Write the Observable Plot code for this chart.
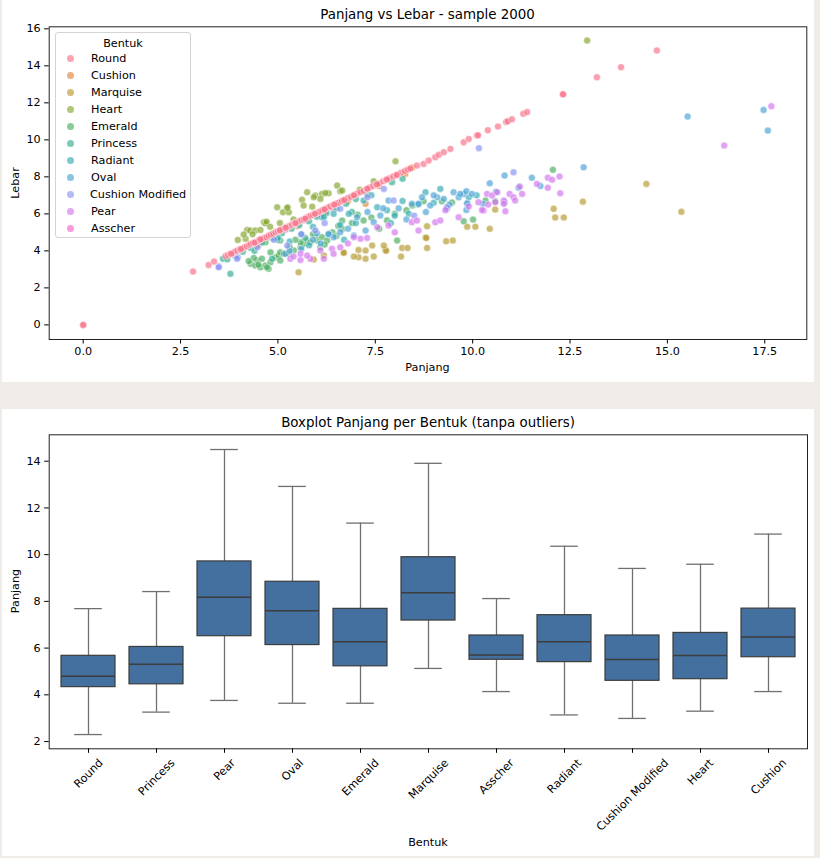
<!DOCTYPE html>
<html>
<head>
<meta charset="utf-8">
<script src="https://cdn.jsdelivr.net/npm/d3@7"></script>
<script src="https://cdn.jsdelivr.net/npm/@observablehq/plot@0.6"></script>
<style>
  html, body { margin: 0; padding: 0; background: #f0ece8; }
  #page { position: relative; width: 820px; height: 858px; background: #f0ece8; overflow: hidden; font-family: "DejaVu Sans", sans-serif; color: #000; }
  .panel { position: absolute; background: #fff; }
  .lbl { position: absolute; white-space: nowrap; line-height: 1; transform: translate(-50%, -50%); }
  .vlbl { position: absolute; white-space: nowrap; line-height: 1; transform: translate(-50%, -50%) rotate(-90deg); }
  svg.plot { position: absolute; left: 0; }
  #legend { position: absolute; left: 55px; top: 32px; width: 136px; height: 206px; border: 1px solid #d4d4d4; border-radius: 3px; background: rgba(255,255,255,0.85); box-sizing: border-box; }
  #legend .ttl { position: absolute; left: 0; width: 100%; text-align: center; top: 4px; font-size: 11.2px; }
  #legend .it { position: absolute; left: 0; font-size: 11.2px; line-height: 1; }
  #legend .dot { position: absolute; width: 7px; height: 7px; border-radius: 50%; }
</style>
</head>
<body>
<div id="page">
  <div class="panel" style="left:2px;top:0;width:812px;height:382px"></div>
  <div class="panel" style="left:2px;top:409px;width:812px;height:447px"></div>
</div>
<script>
// ---------- Scatter data (Panjang, Lebar) per Bentuk ----------
const shapeOrder = ["Round","Cushion","Marquise","Heart","Emerald","Princess","Radiant","Oval","Cushion Modified","Pear","Asscher"];
const palette = ["#f77189","#df873a","#b69931","#86a731","#4cae60","#35ae91","#37abb3","#4ca4d6","#8892f4","#d476ed","#f566c6"];

const roundPts = [
 [0,0],[0,0],[2.82,2.88],[3.22,3.24],[3.36,3.42],
 [3.66,3.72],[3.72,3.78],[3.78,3.85],[3.85,3.9],[3.9,3.97],[3.96,4.02],[4.02,4.08],[4.08,4.12],[4.14,4.2],[4.2,4.25],
 [4.26,4.32],[4.3,4.38],[4.36,4.42],[4.42,4.48],[4.48,4.52],[4.52,4.6],[4.58,4.64],[4.64,4.7],[4.7,4.74],[4.76,4.82],
 [4.82,4.88],[4.88,4.92],[4.94,5.0],[5.0,5.06],[5.06,5.1],[5.12,5.18],[5.18,5.24],[5.24,5.3],[5.3,5.34],[5.36,5.42],
 [5.42,5.48],[5.48,5.52],[5.54,5.6],[5.6,5.66],[5.66,5.7],[5.72,5.78],[5.78,5.84],[5.84,5.9],[5.9,5.95],[5.96,6.02],
 [6.02,6.08],[6.08,6.12],[6.14,6.2],[6.2,6.26],[6.28,6.34],[6.34,6.4],[6.42,6.48],[6.5,6.56],[6.56,6.6],[6.64,6.7],
 [6.72,6.78],[6.8,6.86],[6.88,6.92],[6.96,7.02],[7.04,7.1],[7.12,7.18],[7.2,7.24],[7.28,7.34],[7.36,7.42],[7.44,7.5],
 [7.52,7.58],[7.6,7.64],[7.7,7.76],[7.78,7.84],[7.86,7.92],[7.96,8.02],[8.06,8.12],[8.16,8.22],[8.26,8.32],[8.34,8.4],
 [4.05,4.1],[4.55,4.62],[5.05,5.12],[5.45,5.5],[5.95,6.0],[6.45,6.5],[6.95,7.0],[7.55,7.6],[8.05,8.1],[3.8,3.84],
 [4.4,4.44],[5.2,5.25],[5.7,5.74],[6.2,6.24],[6.7,6.74],[7.3,7.36],[7.8,7.86],
 [8.40,8.45],[8.57,8.61],[8.74,8.70],[8.87,8.88],[9.04,9.06],[9.13,9.20],[9.26,9.33],[9.43,9.51],
 [9.77,9.87],[9.90,10.05],[10.11,10.23],[10.14,10.25],[10.39,10.52],[10.65,10.72],[10.86,10.97],[10.9,11.0],[11.01,11.11],
 [11.30,11.41],[11.40,11.5],[12.32,12.46],[12.32,12.46],[13.19,13.38],[13.81,13.93],[14.73,14.83]
];
const cushionPts = [
 [7.25,6.54],[8.27,8.16],[5.5,5.35],[6.2,6.05],[6.8,6.7],[7.6,7.5],[4.5,4.3],[8.45,8.5]
];
const marquisePts = [
 [12.08,6.27],[12.12,5.80],[12.34,5.80],[10.58,6.23],[10.44,5.19],[9.86,5.31],[10.07,5.31],[9.49,4.56],[9.32,4.52],
 [8.83,4.16],[8.79,4.72],[8.83,5.33],[8.81,4.7],[7.76,4.05],[7.78,4.0],[7.72,4.29],[7.42,4.29],[7.46,3.69],[7.25,3.57],
 [7.07,3.65],[6.95,3.69],[7.25,4.02],[8.19,4.16],[8.33,4.16],[8.16,3.69],[6.69,3.92],[5.53,2.84],[5.92,3.53],
 [6.18,3.75],[6.69,3.89],[7.07,4.05],[14.46,7.62],[15.36,6.11],[12.83,6.66]
];
const heartPts = [
 [5.75,7.17],[5.96,6.99],[6.13,7.08],[6.30,7.11],[6.09,6.81],[5.62,6.76],[5.66,6.45],[5.88,6.39],[5.25,6.36],
 [5.13,6.09],[5.28,6.09],[4.64,5.55],[4.68,5.49],[4.71,5.58],[4.21,5.13],[4.29,5.10],[4.42,5.10],[4.55,5.13],
 [3.97,4.59],[4.17,4.65],[4.12,4.88],[6.52,7.53],[8.02,8.84],[4.98,6.36],[5.24,6.32],[6.6,7.22],[6.22,7.13],
 [5.92,6.9],[7.46,7.76],[6.65,7.26],[12.94,15.37],[4.35,4.9],[4.8,5.3],[5.4,5.7],[5.05,5.5],[7.1,7.3]
];
const emeraldPts = [
 [4.30,3.30],[4.42,3.21],[4.55,3.11],[4.68,3.21],[4.76,3.03],[4.47,3.48],[4.59,3.57],[4.38,3.62],[4.81,3.38],
 [4.94,3.65],[5.02,3.75],[5.06,3.92],[5.15,3.84],[4.81,3.92],[4.68,4.46],[5.06,4.56],[5.28,3.84],[5.41,4.02],
 [5.58,4.19],[5.66,4.38],[5.75,4.56],[5.83,4.46],[6.01,4.56],[5.96,4.83],[6.13,4.74],[6.26,4.56],[6.09,4.19],
 [5.58,4.46],[5.06,3.48],[4.72,3.11],[6.65,5.64],[6.65,5.18],[7.2,5.64],[8.06,4.56],[12.06,8.38],[9.77,5.6],
 [10.01,5.69],[10.33,6.72],[10.58,6.68],[8.74,6.68],[9.21,6.68],[9.47,6.62],[6.4,5.0],[6.9,5.5],[7.4,5.8],
 [7.6,5.2],[8.0,6.0],[8.3,6.2],[4.25,3.45],[4.5,3.25],[5.3,4.2],[5.9,4.9],[6.5,4.8],
 [5.45,4.6],[6.2,4.35],[6.55,5.35],[7.05,5.95],[7.8,5.65],[8.45,6.45]
];
const princessPts = [
 [3.78,2.76],[3.59,3.57],[3.7,3.55],[3.9,3.75],[4.1,3.95],[4.3,4.15],[4.6,4.45],[4.85,4.7],[5.1,4.95],[5.35,5.2],
 [5.55,5.4],[5.8,5.6],[6.0,5.85],[6.25,6.05],[6.5,6.3],[6.75,6.55],[7.0,6.8],[7.3,7.05],[7.93,7.71],[4.85,3.57],
 [4.4,4.0],[5.0,4.6],[8.2,7.9],[5.7,4.7],[6.9,6.1]
];
const radiantPts = [
 [6.43,6.0],[6.13,5.82],[6.30,4.92],[7.20,6.72],[6.82,6.0],[7.55,6.36],[8.36,6.0],[8.79,7.17],[9.17,7.35],[9.34,6.27],
 [6.18,5.82],[5.6,4.9],[5.9,5.3],[6.6,5.4],[7.0,5.5],[7.8,6.2],[8.0,5.9],[8.6,6.5],[9.0,6.6],[9.9,6.9],[10.1,7.0],
 [5.3,4.5],[5.0,4.7],[7.4,7.0],[5.8,4.3],[6.7,4.6],[7.9,5.5],[8.2,6.7]
];
const ovalPts = [
 [8.44,6.54],[8.61,6.54],[8.91,6.45],[9.09,6.90],[9.26,6.81],[9.51,7.17],[9.64,6.9],[9.77,7.08],[9.86,6.54],[7.84,6.72],
 [7.63,5.91],[7.46,5.55],[7.25,5.10],[7.03,5.82],[6.6,5.01],[6.43,4.74],[6.95,4.83],[9.68,7.08],[9.84,7.22],[9.98,7.08],
 [10.44,7.65],[10.82,8.07],[11.52,7.95],[11.74,7.51],[12.85,8.52],[9.86,6.57],[10.27,6.54],[9.84,6.21],[10.82,6.63],
 [11.18,7.41],[15.52,11.26],[17.47,11.62],[17.58,10.50],[5.19,3.84],[5.3,4.0],[5.9,4.6],[6.3,4.9],[6.8,5.2],[8.1,6.3],
 [8.3,5.7],[8.8,6.1],[9.4,6.5],[10.6,7.2],[8.7,6.9],[6.1,4.4],[5.6,4.1],[6.0,4.95],[7.3,6.1],[7.7,6.3],[9.0,7.0]
];
const cushionModPts = [
 [3.48,3.17],[3.97,3.65],[4.47,4.19],[5.24,4.29],[5.96,5.10],[6.6,6.27],[7.72,7.35],[7.97,6.72],[10.16,9.55],
 [11.05,8.25],[9.34,6.36],[3.95,3.57],[3.48,3.11],[4.9,4.6],[6.2,5.5],[7.3,6.9],[8.5,5.9],[5.6,4.9]
];
const pearPts = [
 [10.15,6.63],[10.28,6.18],[10.37,7.08],[10.50,6.99],[10.63,7.17],[10.80,6.72],[10.95,7.08],[11.05,6.9],[11.09,6.72],
 [11.27,7.08],[11.21,7.48],[10.84,6.14],[10.80,6.54],[10.24,6.21],[10.58,6.63],[11.65,7.62],[11.93,7.95],[12.04,7.85],
 [12.23,8.02],[11.93,7.41],[12.25,7.11],[8.44,5.55],[8.57,5.64],[8.61,5.10],[9.04,5.55],[9.17,5.64],[9.64,5.82],
 [7.84,5.37],[7.55,5.28],[7.12,4.65],[7.29,4.70],[6.60,4.19],[5.32,3.57],[5.58,3.51],[5.83,3.57],[6.18,3.57],
 [6.39,4.11],[5.58,3.84],[5.75,3.75],[6.09,4.02],[6.43,3.84],[6.95,4.74],[17.67,11.82],[16.46,9.69],[9.3,6.2],
 [9.9,6.4],[8.0,5.0],[6.8,4.4],[5.4,3.7],[10.4,6.5]
];
const asscherPts = [
 [5.5,5.45],[5.7,5.65],[6.0,5.95],[5.2,5.15],[6.4,6.3],[4.5,4.45]
];

const xTicks = [0, 2.5, 5, 7.5, 10, 12.5, 15, 17.5];
const yTicks = [0, 2, 4, 6, 8, 10, 12, 14, 16];

// ---------- Boxplot data ----------
const boxCats = ["Round","Princess","Pear","Oval","Emerald","Marquise","Asscher","Radiant","Cushion Modified","Heart","Cushion"];
const whiskLow  = [2.30, 3.26, 3.76, 3.64, 3.64, 5.13, 4.14, 3.14, 2.99, 3.30, 4.14];
const q1        = [4.33, 4.45, 6.51, 6.13, 5.22, 7.18, 5.50, 5.40, 4.60, 4.67, 5.61];
const median    = [4.80, 5.31, 8.18, 7.60, 6.27, 8.37, 5.71, 6.27, 5.51, 5.68, 6.47];
const q3        = [5.67, 6.05, 9.71, 8.84, 7.68, 9.89, 6.54, 7.41, 6.54, 6.65, 7.69];
const whiskHigh = [7.69, 8.42, 14.50, 12.92, 11.35, 13.91, 8.12, 10.36, 9.41, 9.59, 10.88];
const boxYTicks = [2, 4, 6, 8, 10, 12, 14];

// ---------- Build ----------
const page = document.getElementById("page");
const series = [
  ["Cushion", cushionPts], ["Asscher", asscherPts], ["Marquise", marquisePts], ["Heart", heartPts],
  ["Emerald", emeraldPts], ["Princess", princessPts], ["Radiant", radiantPts], ["Oval", ovalPts],
  ["Cushion Modified", cushionModPts], ["Pear", pearPts], ["Round", roundPts]
];
const rows = [];
for (const [name, arr] of series) for (const [x, y] of arr) rows.push({shape: name, x, y});

const baseStyle = {fontFamily: "DejaVu Sans, sans-serif", fontSize: "11.2px", color: "black", background: "transparent", overflow: "visible"};

const p1 = Plot.plot({
  width: 820, height: 382,
  marginLeft: 48.7, marginRight: 13.7, marginTop: 26.3, marginBottom: 43,
  style: baseStyle,
  x: {domain: [-0.873, 18.58], label: null},
  y: {domain: [-0.79, 16.11], label: null},
  color: {domain: shapeOrder, range: palette},
  marks: [
    Plot.dot(rows, {x: "x", y: "y", fill: "shape", r: 3.5, fillOpacity: 0.68, stroke: "white", strokeWidth: 0.5}),
    Plot.frame({stroke: "#222", strokeWidth: 1}),
    Plot.axisX({ticks: xTicks, tickFormat: d3.format(".1f"), tickSize: 4.5, tickPadding: 3, label: null}),
    Plot.axisY({ticks: yTicks, tickSize: 4.5, tickPadding: 4, label: null})
  ]
});
p1.classList.add("plot");
p1.style.position = "absolute"; p1.style.left = "0px"; p1.style.top = "0px";
page.appendChild(p1);

const boxRows = boxCats.map((c, i) => ({cat: c, lo: whiskLow[i], q1: q1[i], med: median[i], q3: q3[i], hi: whiskHigh[i]}));
const ctx = document.createElement("canvas").getContext("2d");
ctx.font = "11.2px 'DejaVu Sans'";
const labelMarks = boxCats.map(c => {
  const w = ctx.measureText(c).width;
  return Plot.text([c], {x: d => d, frameAnchor: "bottom", dy: 8.7 + (w + 10) * 0.3535, rotate: -45,
    textAnchor: "middle", lineAnchor: "middle", fontSize: 11.2, fill: "black"});
});

const p2 = Plot.plot({
  width: 820, height: 447,
  marginLeft: 48.7, marginRight: 13, marginTop: 25.3, marginBottom: 107.7,
  style: baseStyle,
  x: {type: "band", domain: boxCats, paddingInner: 0.2, paddingOuter: 0.1, label: null},
  y: {domain: [1.69, 15.13], label: null},
  marks: [
    Plot.ruleX(boxRows, {x: "cat", y1: "lo", y2: "hi", stroke: "#707070", strokeWidth: 1.3}),
    Plot.tickY(boxRows, {x: "cat", y: "lo", stroke: "#707070", strokeWidth: 1.3, insetLeft: 13.2, insetRight: 13.2}),
    Plot.tickY(boxRows, {x: "cat", y: "hi", stroke: "#707070", strokeWidth: 1.3, insetLeft: 13.2, insetRight: 13.2}),
    Plot.barY(boxRows, {x: "cat", y1: "q1", y2: "q3", fill: "#43709f", stroke: "#3d3d3d", strokeWidth: 1.2}),
    Plot.tickY(boxRows, {x: "cat", y: "med", stroke: "#3d3d3d", strokeWidth: 1.5}),
    Plot.frame({stroke: "#222", strokeWidth: 1}),
    Plot.axisY({ticks: boxYTicks, tickSize: 4.5, tickPadding: 4, label: null}),
    Plot.axisX({tickSize: 4.5, tickFormat: () => "", label: null}),
    ...labelMarks
  ]
});
p2.classList.add("plot");
p2.style.position = "absolute"; p2.style.left = "0px"; p2.style.top = "409px";
page.appendChild(p2);

// ---------- Text ----------
function addLabel(text, cx, cy, size, vertical) {
  const d = document.createElement("div");
  d.className = vertical ? "vlbl" : "lbl";
  d.textContent = text;
  d.style.left = cx + "px"; d.style.top = cy + "px"; d.style.fontSize = size + "px";
  page.appendChild(d);
}
addLabel("Panjang vs Lebar - sample 2000", 427.5, 14.5, 13.4);
addLabel("Panjang", 427.5, 368, 11.2);
addLabel("Lebar", 15.5, 182.5, 11.2, true);
addLabel("Boxplot Panjang per Bentuk (tanpa outliers)", 428, 423, 13.4);
addLabel("Panjang", 15.5, 591, 11.2, true);
addLabel("Bentuk", 428, 843, 11.2);

// ---------- Legend ----------
const lg = document.createElement("div");
lg.id = "legend";
const t = document.createElement("div"); t.className = "ttl"; t.textContent = "Bentuk"; lg.appendChild(t);
shapeOrder.forEach((s, i) => {
  const cy = 26.3 + 17 * i;
  const dot = document.createElement("div"); dot.className = "dot";
  dot.style.left = (15 - 3.5 - 1) + "px"; dot.style.top = (cy - 3.5 - 1) + "px";
  dot.style.background = palette[i]; dot.style.opacity = 0.65;
  lg.appendChild(dot);
  const it = document.createElement("div"); it.className = "it"; it.textContent = s;
  it.style.left = (s === "Cushion Modified" ? 34 : 35) + "px"; it.style.top = (cy - 6.5) + "px";
  lg.appendChild(it);
});
page.appendChild(lg);
</script>
</body>
</html>
